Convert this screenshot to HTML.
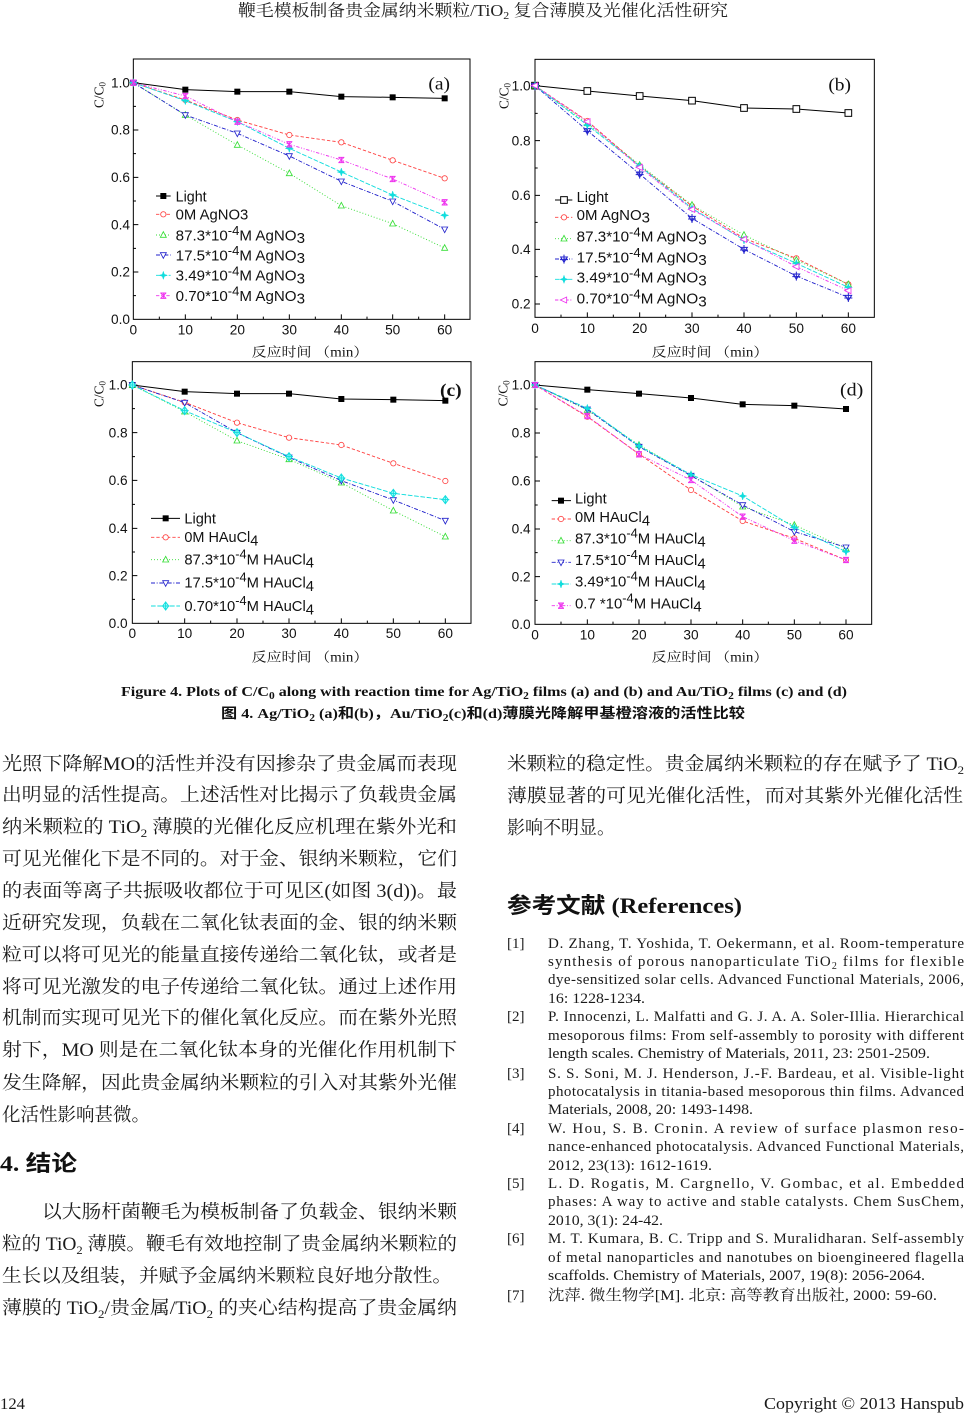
<!DOCTYPE html>
<html><head><meta charset="utf-8">
<style>
html,body{margin:0;padding:0;background:#fff;}
svg{display:block;}
.tk{font-family:"Liberation Sans",sans-serif;font-size:41px;fill:#111;}
.lg{font-family:"Liberation Sans",sans-serif;font-size:44px;fill:#111;}
.ti{font-family:"Liberation Serif","Noto Serif CJK SC",serif;font-size:40px;fill:#111;}
.pl{font-family:"Liberation Serif",serif;font-size:54px;fill:#111;}
.bt{font-family:"Liberation Serif","Noto Serif CJK SC",serif;font-size:18.5px;fill:#1a1a1a;}
.rf{font-family:"Liberation Serif","Noto Serif CJK SC",serif;font-size:15px;fill:#1a1a1a;}
.hd{font-family:"Liberation Serif","Noto Sans CJK SC",sans-serif;font-size:22px;font-weight:bold;fill:#111;}
.cp{font-family:"Liberation Serif","Noto Sans CJK SC",serif;font-size:14px;font-weight:bold;fill:#111;}
.fr{fill:none;stroke:#000;stroke-width:3;}
.tks{fill:none;stroke:#000;stroke-width:3;}
.sL{fill:none;stroke:#000;stroke-width:3;}
.sR{fill:none;stroke:#f44;stroke-width:2.8;stroke-dasharray:10 6;}
.sG{fill:none;stroke:#3d3;stroke-width:2.8;stroke-dasharray:3 6;}
.sB{fill:none;stroke:#22c;stroke-width:2.8;stroke-dasharray:12 5 3 5;}
.sC{fill:none;stroke:#1dd;stroke-width:2.8;stroke-dasharray:14 5;}
.sM{fill:none;stroke:#e3e;stroke-width:2.8;stroke-dasharray:10 5 3 5 3 5;}
</style></head>
<body>
<svg width="965" height="1414" viewBox="0 0 965 1414" xmlns="http://www.w3.org/2000/svg">
<defs>
<marker id="sqf" markerUnits="userSpaceOnUse" refX="0" refY="0" markerWidth="1" markerHeight="1" overflow="visible"><rect x="-9" y="-9" width="18" height="18" fill="#000"/></marker>
<marker id="sqo" markerUnits="userSpaceOnUse" refX="0" refY="0" markerWidth="1" markerHeight="1" overflow="visible"><rect x="-10" y="-10" width="20" height="20" fill="#fff" stroke="#000" stroke-width="3"/></marker>
<marker id="cir" markerUnits="userSpaceOnUse" refX="0" refY="0" markerWidth="1" markerHeight="1" overflow="visible"><circle r="8" fill="#fff" stroke="#f44" stroke-width="2.5"/></marker>
<marker id="tu" markerUnits="userSpaceOnUse" refX="0" refY="0" markerWidth="1" markerHeight="1" overflow="visible"><path d="M0,-10L9,7L-9,7Z" fill="#fff" stroke="#3d3" stroke-width="2.5"/></marker>
<marker id="td" markerUnits="userSpaceOnUse" refX="0" refY="0" markerWidth="1" markerHeight="1" overflow="visible"><path d="M0,10L9,-7L-9,-7Z" fill="#fff" stroke="#22c" stroke-width="2.5"/></marker>
<marker id="st" markerUnits="userSpaceOnUse" refX="0" refY="0" markerWidth="1" markerHeight="1" overflow="visible"><path d="M0,-12L3,-3L12,0L3,3L0,12L-3,3L-12,0L-3,-3Z" fill="#1dd" stroke="#1dd" stroke-width="1.5"/></marker>
<marker id="xm" markerUnits="userSpaceOnUse" refX="0" refY="0" markerWidth="1" markerHeight="1" overflow="visible"><path d="M-8,-8L8,8M8,-8L-8,8M-9,-8L9,-8M-9,8L9,8M0,-9L0,9" fill="none" stroke="#e3e" stroke-width="3"/></marker>
<marker id="tl" markerUnits="userSpaceOnUse" refX="0" refY="0" markerWidth="1" markerHeight="1" overflow="visible"><path d="M-11,0L8,-9L8,9Z" fill="#fff" stroke="#e3e" stroke-width="2.5"/></marker>
<marker id="bp" markerUnits="userSpaceOnUse" refX="0" refY="0" markerWidth="1" markerHeight="1" overflow="visible"><path d="M-10,-6L10,-6L0,10Z M0,-13L0,14M-12,2L12,2" fill="none" stroke="#22c" stroke-width="3"/></marker>
<marker id="pc" markerUnits="userSpaceOnUse" refX="0" refY="0" markerWidth="1" markerHeight="1" overflow="visible"><path d="M0,-12L9,0L0,12L-9,0Z M0,-13L0,13M-12,0L12,0" fill="#bff" stroke="#1dd" stroke-width="3"/></marker>
</defs>

<!-- header -->
<text x="238" y="16" textLength="490" lengthAdjust="spacingAndGlyphs" style="font-family:'Liberation Serif','Noto Serif CJK SC',serif;font-size:16.5px;fill:#222">鞭毛模板制备贵金属纳米颗粒/TiO<tspan font-size="11" dy="3">2</tspan><tspan dy="-3"> 复合薄膜及光催化活性研究</tspan></text>

<!-- Panel (a) -->
<g transform="translate(80 40) scale(0.333333)">
<rect class="fr" x="160" y="57" width="1010" height="781"/>
<path class="tks" d="M316,838v-15M472,838v-15M628,838v-15M784,838v-15M938,838v-15M1094,838v-15M238,838v-8M394,838v-8M550,838v-8M706,838v-8M861,838v-8M1016,838v-8M160,128h15M160,270h15M160,412h15M160,554h15M160,696h15M160,199h8M160,341h8M160,483h8M160,625h8M160,767h8"/>
<g class="tk" text-anchor="end"><text x="150" y="142">1.0</text><text x="150" y="284">0.8</text><text x="150" y="426">0.6</text><text x="150" y="568">0.4</text><text x="150" y="710">0.2</text><text x="150" y="852">0.0</text></g>
<g class="tk" text-anchor="middle"><text x="160" y="884">0</text><text x="316" y="884">10</text><text x="472" y="884">20</text><text x="628" y="884">30</text><text x="784" y="884">40</text><text x="938" y="884">50</text><text x="1094" y="884">60</text></g>
<text class="ti" transform="translate(70 165) rotate(-90)" text-anchor="middle">C/C<tspan font-size="27" dy="6">0</tspan></text>
<text class="ti" x="515" y="950" textLength="350" lengthAdjust="spacingAndGlyphs">反应时间 （min）</text>
<text class="pl" x="1045" y="148" textLength="65" lengthAdjust="spacingAndGlyphs">(a)</text>
<polyline class="sL" points="160,128 316,149 472,155 628,155 784,170 938,172 1094,175" marker-start="url(#sqf)" marker-mid="url(#sqf)" marker-end="url(#sqf)"/>
<polyline class="sR" points="160,128 316,180 472,240 628,285 784,307 938,361 1094,415" marker-start="url(#cir)" marker-mid="url(#cir)" marker-end="url(#cir)"/>
<polyline class="sG" points="160,128 316,225 472,315 628,400 784,497 938,551 1094,624" marker-start="url(#tu)" marker-mid="url(#tu)" marker-end="url(#tu)"/>
<polyline class="sB" points="160,128 316,225 472,280 628,348 784,424 938,484 1094,568" marker-start="url(#td)" marker-mid="url(#td)" marker-end="url(#td)"/>
<polyline class="sC" points="160,128 316,182 472,245 628,325 784,396 938,465 1094,526" marker-start="url(#st)" marker-mid="url(#st)" marker-end="url(#st)"/>
<polyline class="sM" points="160,128 316,168 472,245 628,313 784,360 938,417 1094,487" marker-start="url(#xm)" marker-mid="url(#xm)" marker-end="url(#xm)"/>
<polyline class="sL" points="228,468 250,468 272,468" marker-mid="url(#sqf)"/>
<polyline class="sR" points="228,523 250,523 272,523" marker-mid="url(#cir)"/>
<polyline class="sG" points="228,585 250,585 272,585" marker-mid="url(#tu)"/>
<polyline class="sB" points="228,645 250,645 272,645" marker-mid="url(#td)"/>
<polyline class="sC" points="228,706 250,706 272,706" marker-mid="url(#st)"/>
<polyline class="sM" points="228,767 250,767 272,767" marker-mid="url(#xm)"/>
<text class="lg" x="287" y="484" textLength="93" lengthAdjust="spacingAndGlyphs">Light</text>
<text class="lg" x="287" y="539" textLength="218" lengthAdjust="spacingAndGlyphs">0M AgNO3</text>
<text class="lg" x="287" y="601" textLength="388" lengthAdjust="spacingAndGlyphs">87.3*10<tspan dy="-16" font-size="38">-4</tspan><tspan dy="16">M AgNO</tspan><tspan dy="8">3</tspan></text>
<text class="lg" x="287" y="661" textLength="388" lengthAdjust="spacingAndGlyphs">17.5*10<tspan dy="-16" font-size="38">-4</tspan><tspan dy="16">M AgNO</tspan><tspan dy="8">3</tspan></text>
<text class="lg" x="287" y="722" textLength="388" lengthAdjust="spacingAndGlyphs">3.49*10<tspan dy="-16" font-size="38">-4</tspan><tspan dy="16">M AgNO</tspan><tspan dy="8">3</tspan></text>
<text class="lg" x="287" y="783" textLength="388" lengthAdjust="spacingAndGlyphs">0.70*10<tspan dy="-16" font-size="38">-4</tspan><tspan dy="16">M AgNO</tspan><tspan dy="8">3</tspan></text>
</g>

<!-- Panel (b) -->
<g transform="translate(485 40) scale(0.333333)">
<rect class="fr" x="150" y="58" width="1018" height="774"/>
<path class="tks" d="M307,832v-15M464,832v-15M621,832v-15M777,832v-15M934,832v-15M1090,832v-15M228,832v-8M385,832v-8M542,832v-8M699,832v-8M855,832v-8M1012,832v-8M150,137h15M150,302h15M150,466h15M150,628h15M150,792h15M150,220h8M150,384h8M150,547h8M150,710h8"/>
<g class="tk" text-anchor="end"><text x="137" y="151">1.0</text><text x="137" y="316">0.8</text><text x="137" y="480">0.6</text><text x="137" y="642">0.4</text><text x="137" y="806">0.2</text></g>
<g class="tk" text-anchor="middle"><text x="150" y="879">0</text><text x="307" y="879">10</text><text x="464" y="879">20</text><text x="621" y="879">30</text><text x="777" y="879">40</text><text x="934" y="879">50</text><text x="1090" y="879">60</text></g>
<text class="ti" transform="translate(70 168) rotate(-90)" text-anchor="middle">C/C<tspan font-size="27" dy="6">0</tspan></text>
<text class="ti" x="500" y="950" textLength="350" lengthAdjust="spacingAndGlyphs">反应时间 （min）</text>
<text class="pl" x="1030" y="151" textLength="68" lengthAdjust="spacingAndGlyphs">(b)</text>
<polyline class="sL" points="150,137 307,153 464,168 621,182 777,204 934,207 1090,219" marker-start="url(#sqo)" marker-mid="url(#sqo)" marker-end="url(#sqo)"/>
<polyline class="sR" points="150,137 307,243 464,378 621,498 777,595 934,655 1090,733" marker-start="url(#cir)" marker-mid="url(#cir)" marker-end="url(#cir)"/>
<polyline class="sG" points="150,137 307,250 464,375 621,495 777,585 934,660 1090,733" marker-start="url(#tu)" marker-mid="url(#tu)" marker-end="url(#tu)"/>
<polyline class="sB" points="150,137 307,272 464,402 621,535 777,628 934,708 1090,772" marker-start="url(#bp)" marker-mid="url(#bp)" marker-end="url(#bp)"/>
<polyline class="sC" points="150,137 307,255 464,378 621,505 777,600 934,670 1090,742" marker-start="url(#st)" marker-mid="url(#st)" marker-end="url(#st)"/>
<polyline class="sM" points="150,137 307,245 464,382 621,508 777,598 934,680 1090,752" marker-start="url(#tl)" marker-mid="url(#tl)" marker-end="url(#tl)"/>
<polyline class="sL" points="210,480 237,480 262,480" marker-mid="url(#sqo)"/>
<polyline class="sR" points="210,532 237,532 262,532" marker-mid="url(#cir)"/>
<polyline class="sG" points="210,596 237,596 262,596" marker-mid="url(#tu)"/>
<polyline class="sB" points="210,657 237,657 262,657" marker-mid="url(#bp)"/>
<polyline class="sC" points="210,718 237,718 262,718" marker-mid="url(#st)"/>
<polyline class="sM" points="210,780 237,780 262,780" marker-mid="url(#tl)"/>
<text class="lg" x="275" y="486" textLength="95" lengthAdjust="spacingAndGlyphs">Light</text>
<text class="lg" x="275" y="540" textLength="220" lengthAdjust="spacingAndGlyphs">0M AgNO<tspan dy="8">3</tspan></text>
<text class="lg" x="275" y="605" textLength="390" lengthAdjust="spacingAndGlyphs">87.3*10<tspan dy="-16" font-size="38">-4</tspan><tspan dy="16">M AgNO</tspan><tspan dy="8">3</tspan></text>
<text class="lg" x="275" y="667" textLength="390" lengthAdjust="spacingAndGlyphs">17.5*10<tspan dy="-16" font-size="38">-4</tspan><tspan dy="16">M AgNO</tspan><tspan dy="8">3</tspan></text>
<text class="lg" x="275" y="728" textLength="390" lengthAdjust="spacingAndGlyphs">3.49*10<tspan dy="-16" font-size="38">-4</tspan><tspan dy="16">M AgNO</tspan><tspan dy="8">3</tspan></text>
<text class="lg" x="275" y="791" textLength="390" lengthAdjust="spacingAndGlyphs">0.70*10<tspan dy="-16" font-size="38">-4</tspan><tspan dy="16">M AgNO</tspan><tspan dy="8">3</tspan></text>
</g>

<!-- Panel (c) -->
<g transform="translate(80 350) scale(0.333333)">
<rect class="fr" x="157" y="35" width="1016" height="785"/>
<path class="tks" d="M314,820v-15M471,820v-15M627,820v-15M784,820v-15M940,820v-15M1096,820v-15M235,820v-8M392,820v-8M549,820v-8M705,820v-8M862,820v-8M1018,820v-8M157,105h15M157,248h15M157,391h15M157,535h15M157,677h15M157,176h8M157,320h8M157,463h8M157,606h8M157,748h8"/>
<g class="tk" text-anchor="end"><text x="143" y="119">1.0</text><text x="143" y="262">0.8</text><text x="143" y="405">0.6</text><text x="143" y="549">0.4</text><text x="143" y="691">0.2</text><text x="143" y="834">0.0</text></g>
<g class="tk" text-anchor="middle"><text x="157" y="864">0</text><text x="314" y="864">10</text><text x="471" y="864">20</text><text x="627" y="864">30</text><text x="784" y="864">40</text><text x="940" y="864">50</text><text x="1096" y="864">60</text></g>
<text class="ti" transform="translate(70 132) rotate(-90)" text-anchor="middle">C/C<tspan font-size="27" dy="6">0</tspan></text>
<text class="ti" x="515" y="935" textLength="350" lengthAdjust="spacingAndGlyphs">反应时间 （min）</text>
<text class="pl" x="1080" y="138" textLength="65" lengthAdjust="spacingAndGlyphs" font-weight="bold">(c)</text>
<polyline class="sL" points="157,105 314,125 471,131 627,131 784,147 940,149 1096,152" marker-start="url(#sqf)" marker-mid="url(#sqf)" marker-end="url(#sqf)"/>
<polyline class="sR" points="157,105 314,157 471,218 627,263 784,285 940,340 1096,393" marker-start="url(#cir)" marker-mid="url(#cir)" marker-end="url(#cir)"/>
<polyline class="sG" points="157,105 314,185 471,272 627,328 784,398 940,482 1096,560" marker-start="url(#tu)" marker-mid="url(#tu)" marker-end="url(#tu)"/>
<polyline class="sB" points="157,105 314,158 471,248 627,322 784,392 940,450 1096,512" marker-start="url(#td)" marker-mid="url(#td)" marker-end="url(#td)"/>
<polyline class="sC" points="157,105 314,182 471,248 627,320 784,384 940,430 1096,449" marker-start="url(#pc)" marker-mid="url(#pc)" marker-end="url(#pc)"/>
<polyline class="sL" points="213,505 257,505 300,505" marker-mid="url(#sqf)"/>
<polyline class="sR" points="213,562 257,562 300,562" marker-mid="url(#cir)"/>
<polyline class="sG" points="213,629 257,629 300,629" marker-mid="url(#tu)"/>
<polyline class="sB" points="213,699 257,699 300,699" marker-mid="url(#td)"/>
<polyline class="sC" points="213,768 257,768 300,768" marker-mid="url(#pc)"/>
<text class="lg" x="313" y="521" textLength="95" lengthAdjust="spacingAndGlyphs">Light</text>
<text class="lg" x="313" y="576" textLength="222" lengthAdjust="spacingAndGlyphs">0M HAuCl<tspan dy="10">4</tspan></text>
<text class="lg" x="313" y="643" textLength="389" lengthAdjust="spacingAndGlyphs">87.3*10<tspan dy="-18" font-size="38">-4</tspan><tspan dy="18">M HAuCl</tspan><tspan dy="10">4</tspan></text>
<text class="lg" x="313" y="713" textLength="389" lengthAdjust="spacingAndGlyphs">17.5*10<tspan dy="-18" font-size="38">-4</tspan><tspan dy="18">M HAuCl</tspan><tspan dy="10">4</tspan></text>
<text class="lg" x="313" y="783" textLength="389" lengthAdjust="spacingAndGlyphs">0.70*10<tspan dy="-18" font-size="38">-4</tspan><tspan dy="18">M HAuCl</tspan><tspan dy="10">4</tspan></text>
</g>

<!-- Panel (d) -->
<g transform="translate(485 350) scale(0.333333)">
<rect class="fr" x="150" y="35" width="1010" height="788"/>
<path class="tks" d="M307,823v-15M462,823v-15M618,823v-15M773,823v-15M928,823v-15M1083,823v-15M228,823v-8M384,823v-8M540,823v-8M695,823v-8M850,823v-8M1005,823v-8M150,105h15M150,249h15M150,393h15M150,537h15M150,680h15M150,177h8M150,321h8M150,465h8M150,608h8M150,751h8"/>
<g class="tk" text-anchor="end"><text x="137" y="119">1.0</text><text x="137" y="263">0.8</text><text x="137" y="407">0.6</text><text x="137" y="551">0.4</text><text x="137" y="694">0.2</text><text x="137" y="837">0.0</text></g>
<g class="tk" text-anchor="middle"><text x="150" y="869">0</text><text x="307" y="869">10</text><text x="462" y="869">20</text><text x="618" y="869">30</text><text x="773" y="869">40</text><text x="928" y="869">50</text><text x="1083" y="869">60</text></g>
<text class="ti" transform="translate(68 130) rotate(-90)" text-anchor="middle">C/C<tspan font-size="27" dy="6">0</tspan></text>
<text class="ti" x="500" y="935" textLength="350" lengthAdjust="spacingAndGlyphs">反应时间 （min）</text>
<text class="pl" x="1065" y="136" textLength="70" lengthAdjust="spacingAndGlyphs">(d)</text>
<polyline class="sL" points="150,105 307,119 462,131 618,144 773,163 928,167 1083,177" marker-start="url(#sqf)" marker-mid="url(#sqf)" marker-end="url(#sqf)"/>
<polyline class="sR" points="150,105 307,200 462,312 618,420 773,513 928,565 1083,630" marker-start="url(#cir)" marker-mid="url(#cir)" marker-end="url(#cir)"/>
<polyline class="sG" points="150,105 307,180 462,285 618,375 773,470 928,525 1083,595" marker-start="url(#tu)" marker-mid="url(#tu)" marker-end="url(#tu)"/>
<polyline class="sB" points="150,105 307,178 462,290 618,377 773,465 928,545 1083,592" marker-start="url(#td)" marker-mid="url(#td)" marker-end="url(#td)"/>
<polyline class="sC" points="150,105 307,175 462,288 618,374 773,438 928,532 1083,605" marker-start="url(#st)" marker-mid="url(#st)" marker-end="url(#st)"/>
<polyline class="sM" points="150,105 307,198 462,313 618,390 773,500 928,572 1083,630" marker-start="url(#xm)" marker-mid="url(#xm)" marker-end="url(#xm)"/>
<polyline class="sL" points="200,452 228,452 258,452" marker-mid="url(#sqf)"/>
<polyline class="sR" points="200,507 228,507 258,507" marker-mid="url(#cir)"/>
<polyline class="sG" points="200,572 228,572 258,572" marker-mid="url(#tu)"/>
<polyline class="sB" points="200,637 228,637 258,637" marker-mid="url(#td)"/>
<polyline class="sC" points="200,702 228,702 258,702" marker-mid="url(#st)"/>
<polyline class="sM" points="200,767 228,767 258,767" marker-mid="url(#xm)"/>
<text class="lg" x="270" y="460" textLength="95" lengthAdjust="spacingAndGlyphs">Light</text>
<text class="lg" x="270" y="516" textLength="225" lengthAdjust="spacingAndGlyphs">0M HAuCl<tspan dy="10">4</tspan></text>
<text class="lg" x="270" y="580" textLength="392" lengthAdjust="spacingAndGlyphs">87.3*10<tspan dy="-18" font-size="38">-4</tspan><tspan dy="18">M HAuCl</tspan><tspan dy="10">4</tspan></text>
<text class="lg" x="270" y="645" textLength="392" lengthAdjust="spacingAndGlyphs">17.5*10<tspan dy="-18" font-size="38">-4</tspan><tspan dy="18">M HAuCl</tspan><tspan dy="10">4</tspan></text>
<text class="lg" x="270" y="710" textLength="392" lengthAdjust="spacingAndGlyphs">3.49*10<tspan dy="-18" font-size="38">-4</tspan><tspan dy="18">M HAuCl</tspan><tspan dy="10">4</tspan></text>
<text class="lg" x="270" y="775" textLength="380" lengthAdjust="spacingAndGlyphs">0.7 *10<tspan dy="-18" font-size="38">-4</tspan><tspan dy="18">M HAuCl</tspan><tspan dy="10">4</tspan></text>
</g>

<!-- caption -->
<text class="cp" x="121" y="696" textLength="726" lengthAdjust="spacingAndGlyphs">Figure 4. Plots of C/C<tspan font-size="10" dy="3">0</tspan><tspan dy="-3"> along with reaction time for Ag/TiO</tspan><tspan font-size="10" dy="3">2</tspan><tspan dy="-3"> films (a) and (b) and Au/TiO</tspan><tspan font-size="10" dy="3">2</tspan><tspan dy="-3"> films (c) and (d)</tspan></text>
<text class="cp" x="221" y="718" textLength="524" lengthAdjust="spacingAndGlyphs">图 4. Ag/TiO<tspan font-size="10" dy="3">2</tspan><tspan dy="-3"> (a)和(b)，Au/TiO</tspan><tspan font-size="10" dy="3">2</tspan><tspan dy="-3">(c)和(d)薄膜光降解甲基橙溶液的活性比较</tspan></text>

<!-- left column -->
<g class="bt">
<text x="2" y="770" textLength="455" lengthAdjust="spacingAndGlyphs">光照下降解MO的活性并没有因掺杂了贵金属而表现</text>
<text x="2" y="801" textLength="455" lengthAdjust="spacingAndGlyphs">出明显的活性提高。上述活性对比揭示了负载贵金属</text>
<text x="2" y="833" textLength="455" lengthAdjust="spacingAndGlyphs">纳米颗粒的 TiO<tspan font-size="12" dy="4">2</tspan><tspan dy="-4"> 薄膜的光催化反应机理在紫外光和</tspan></text>
<text x="2" y="865" textLength="455" lengthAdjust="spacingAndGlyphs">可见光催化下是不同的。对于金、银纳米颗粒，它们</text>
<text x="2" y="897" textLength="455" lengthAdjust="spacingAndGlyphs">的表面等离子共振吸收都位于可见区(如图 3(d))。最</text>
<text x="2" y="929" textLength="455" lengthAdjust="spacingAndGlyphs">近研究发现，负载在二氧化钛表面的金、银的纳米颗</text>
<text x="2" y="961" textLength="455" lengthAdjust="spacingAndGlyphs">粒可以将可见光的能量直接传递给二氧化钛，或者是</text>
<text x="2" y="993" textLength="455" lengthAdjust="spacingAndGlyphs">将可见光激发的电子传递给二氧化钛。通过上述作用</text>
<text x="2" y="1024" textLength="455" lengthAdjust="spacingAndGlyphs">机制而实现可见光下的催化氧化反应。而在紫外光照</text>
<text x="2" y="1056" textLength="455" lengthAdjust="spacingAndGlyphs">射下，MO 则是在二氧化钛本身的光催化作用机制下</text>
<text x="2" y="1089" textLength="455" lengthAdjust="spacingAndGlyphs">发生降解，因此贵金属纳米颗粒的引入对其紫外光催</text>
<text x="2" y="1121" textLength="148" lengthAdjust="spacingAndGlyphs">化活性影响甚微。</text>
<text x="42" y="1218" textLength="415" lengthAdjust="spacingAndGlyphs">以大肠杆菌鞭毛为模板制备了负载金、银纳米颗</text>
<text x="2" y="1250" textLength="455" lengthAdjust="spacingAndGlyphs">粒的 TiO<tspan font-size="12" dy="4">2</tspan><tspan dy="-4"> 薄膜。鞭毛有效地控制了贵金属纳米颗粒的</tspan></text>
<text x="2" y="1282" textLength="450" lengthAdjust="spacingAndGlyphs">生长以及组装，并赋予金属纳米颗粒良好地分散性。</text>
<text x="2" y="1314" textLength="455" lengthAdjust="spacingAndGlyphs">薄膜的 TiO<tspan font-size="12" dy="4">2</tspan><tspan dy="-4">/贵金属/TiO</tspan><tspan font-size="12" dy="4">2</tspan><tspan dy="-4"> 的夹心结构提高了贵金属纳</tspan></text>
<text x="507" y="770" textLength="457" lengthAdjust="spacingAndGlyphs">米颗粒的稳定性。贵金属纳米颗粒的存在赋予了 TiO<tspan font-size="12" dy="4">2</tspan></text>
<text x="507" y="802" textLength="456" lengthAdjust="spacingAndGlyphs">薄膜显著的可见光催化活性，而对其紫外光催化活性</text>
<text x="507" y="834" textLength="108" lengthAdjust="spacingAndGlyphs">影响不明显。</text>
</g>
<text class="hd" x="0" y="1171" textLength="77" lengthAdjust="spacingAndGlyphs">4. 结论</text>
<text class="hd" x="507" y="913" textLength="235" lengthAdjust="spacingAndGlyphs">参考文献  (References)</text>

<!-- references -->
<g class="rf">
<text x="507" y="948">[1]</text>
<text x="548" y="948" textLength="416" lengthAdjust="spacing">D. Zhang, T. Yoshida, T. Oekermann, et al. Room-temperature</text>
<text x="548" y="966" textLength="416" lengthAdjust="spacing">synthesis of porous nanoparticulate TiO<tspan font-size="10" dy="3">2</tspan><tspan dy="-3"> films for flexible</tspan></text>
<text x="548" y="984" textLength="416" lengthAdjust="spacing">dye-sensitized solar cells. Advanced Functional Materials, 2006,</text>
<text x="548" y="1003" textLength="97" lengthAdjust="spacingAndGlyphs">16: 1228-1234.</text>
<text x="507" y="1021">[2]</text>
<text x="548" y="1021" textLength="416" lengthAdjust="spacing">P. Innocenzi, L. Malfatti and G. J. A. A. Soler-Illia. Hierarchical</text>
<text x="548" y="1040" textLength="416" lengthAdjust="spacing">mesoporous films: From self-assembly to porosity with different</text>
<text x="548" y="1058" textLength="382" lengthAdjust="spacingAndGlyphs">length scales. Chemistry of Materials, 2011, 23: 2501-2509.</text>
<text x="507" y="1078">[3]</text>
<text x="548" y="1078" textLength="416" lengthAdjust="spacing">S. S. Soni, M. J. Henderson, J.-F. Bardeau, et al. Visible-light</text>
<text x="548" y="1096" textLength="416" lengthAdjust="spacing">photocatalysis in titania-based mesoporous thin films. Advanced</text>
<text x="548" y="1114" textLength="205" lengthAdjust="spacingAndGlyphs">Materials, 2008, 20: 1493-1498.</text>
<text x="507" y="1133">[4]</text>
<text x="548" y="1133" textLength="416" lengthAdjust="spacing">W. Hou, S. B. Cronin. A review of surface plasmon reso-</text>
<text x="548" y="1151" textLength="416" lengthAdjust="spacing">nance-enhanced photocatalysis. Advanced Functional Materials,</text>
<text x="548" y="1170" textLength="164" lengthAdjust="spacingAndGlyphs">2012, 23(13): 1612-1619.</text>
<text x="507" y="1188">[5]</text>
<text x="548" y="1188" textLength="416" lengthAdjust="spacing">L. D. Rogatis, M. Cargnello, V. Gombac, et al. Embedded</text>
<text x="548" y="1206" textLength="416" lengthAdjust="spacing">phases: A way to active and stable catalysts. Chem SusChem,</text>
<text x="548" y="1225" textLength="115" lengthAdjust="spacingAndGlyphs">2010, 3(1): 24-42.</text>
<text x="507" y="1243">[6]</text>
<text x="548" y="1243" textLength="416" lengthAdjust="spacing">M. T. Kumara, B. C. Tripp and S. Muralidharan. Self-assembly</text>
<text x="548" y="1262" textLength="416" lengthAdjust="spacing">of metal nanoparticles and nanotubes on bioengineered flagella</text>
<text x="548" y="1280" textLength="377" lengthAdjust="spacingAndGlyphs">scaffolds. Chemistry of Materials, 2007, 19(8): 2056-2064.</text>
<text x="507" y="1300">[7]</text>
<text x="548" y="1300" textLength="389" lengthAdjust="spacingAndGlyphs">沈萍. 微生物学[M]. 北京: 高等教育出版社, 2000: 59-60.</text>
</g>

<!-- footer -->
<text x="0" y="1409" textLength="25" lengthAdjust="spacingAndGlyphs" style="font-family:'Liberation Serif',serif;font-size:16px;fill:#1a1a1a">124</text>
<text x="764" y="1409" textLength="200" lengthAdjust="spacingAndGlyphs" style="font-family:'Liberation Serif',serif;font-size:17px;fill:#1a1a1a">Copyright © 2013 Hanspub</text>
</svg>
</body></html>
